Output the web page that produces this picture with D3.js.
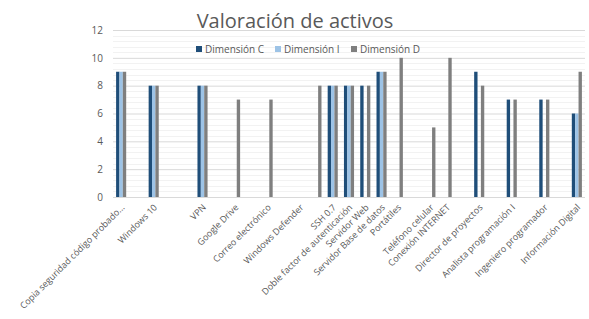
<!DOCTYPE html>
<html>
  <head>
    <title>Valoración de activos</title>
    <script src="https://d3js.org/d3.v7.min.js"></script>
    <style>
      body { margin: 0; background: #fff; }
      text { font-family: "Open Sans", sans-serif; fill: #595959; }
    </style>
  </head>
  <body>
    <svg width="589" height="319"></svg>
    <script>
      // categories (blank ones are empty rows in the source sheet)
      const categories = [
        "Copia seguridad código probado...", "", "Windows 10", "", "", "VPN", "",
        "Google Drive", "", "Correo electrónico", "", "Windows Defender", "",
        "SSH 0.7", "Doble factor de autenticación", "Servidor  Web",
        "Servidor  Base de datos", "Portátiles", "", "Teléfono celular",
        "Conexión INTERNET", "", "Director de proyectos", "", "Analista programación I",
        "", "Ingeniero programador", "", "Información Digital"
      ];
      const dimC = [9,0,8,0,0,8,0,0,0,0,0,0,0,8,8,8,9,0,0,0,0,0,9,0,7,0,7,0,6];
      const dimI = [9,0,8,0,0,8,0,0,0,0,0,0,0,8,8,0,9,0,0,0,0,0,0,0,0,0,0,0,6];
      const dimD = [9,0,8,0,0,8,0,7,0,7,0,0,8,8,8,8,9,10,0,5,10,0,8,0,7,0,7,0,9];
      const seriesNames = ["Dimensión C", "Dimensión I", "Dimensión D"];
      const colors = ["#1f4e79", "#9dc3e6", "#7f7f7f"];
      const yTicks = [0, 2, 4, 6, 8, 10, 12];

      const svg = d3.select("svg");
      const margin = {left: 113, right: 4, top: 30, bottom: 122};
      const width = +svg.attr("width");
      const height = +svg.attr("height");
      const plotBottom = height - margin.bottom;

      const series = [dimC, dimI, dimD];
      const rows = categories.map((c, i) => ({i, name: c, vals: series.map(s => s[i])}));

      const x0 = d3.scaleBand()
        .domain(d3.range(categories.length))
        .range([margin.left, width - margin.right])
        .paddingInner(0.38).paddingOuter(0.19);
      const x1 = d3.scaleBand().domain([0, 1, 2]).range([0, x0.bandwidth()]);
      const y = d3.scaleLinear().domain([0, 12]).range([plotBottom, margin.top]);

      // minor gridlines
      svg.append("g").selectAll("line")
        .data(d3.range(0, 12.01, 0.4).filter(v => Math.abs(v / 2 - Math.round(v / 2)) > 0.01))
        .enter().append("line")
          .attr("x1", margin.left).attr("x2", width - margin.right)
          .attr("y1", d => Math.round(y(d)) + 0.5).attr("y2", d => Math.round(y(d)) + 0.5)
          .attr("stroke", "#f2f2f2");

      // major gridlines + y labels
      const yAxis = d3.axisLeft(y).tickValues(yTicks).tickSize(-(width - margin.left - margin.right)).tickPadding(10);
      const gy = svg.append("g").attr("transform", `translate(${margin.left},0)`).call(yAxis);
      gy.select(".domain").remove();
      gy.selectAll(".tick line").attr("stroke", "#d9d9d9");
      gy.selectAll(".tick text").attr("font-size", 10).attr("fill", "#595959")
        .attr("font-family", "Open Sans, sans-serif");

      // bars
      svg.append("g").selectAll("g")
        .data(rows)
        .enter().append("g")
          .attr("transform", d => `translate(${x0(d.i)},0)`)
        .selectAll("rect")
        .data(d => d.vals.map((v, k) => ({k, v})))
        .enter().append("rect")
          .attr("x", d => x1(d.k))
          .attr("width", x1.bandwidth())
          .attr("y", d => y(d.v))
          .attr("height", d => y(0) - y(d.v))
          .attr("fill", d => colors[d.k]);

      // x labels
      svg.append("g").selectAll("text")
        .data(rows.filter(d => d.name))
        .enter().append("text")
          .attr("transform", d => `translate(${x0(d.i) + x0.bandwidth() / 2 + 4},${plotBottom + 11}) rotate(-45)`)
          .attr("text-anchor", "end")
          .attr("font-size", 9)
          .text(d => d.name);

      // title
      svg.append("text")
        .attr("x", 295).attr("y", 28)
        .attr("text-anchor", "middle")
        .attr("font-size", 20)
        .text("Valoración de activos");

      // legend
      const legendX = [196, 275, 351];
      const lg = svg.append("g").selectAll("g")
        .data(seriesNames)
        .enter().append("g")
          .attr("transform", (d, i) => `translate(${legendX[i]},46)`);
      lg.append("rect").attr("width", 6).attr("height", 6).attr("fill", (d, i) => colors[i]);
      lg.append("text").attr("x", 9).attr("y", 6.5).attr("font-size", 10).text(d => d);
    </script>
  </body>
</html>
